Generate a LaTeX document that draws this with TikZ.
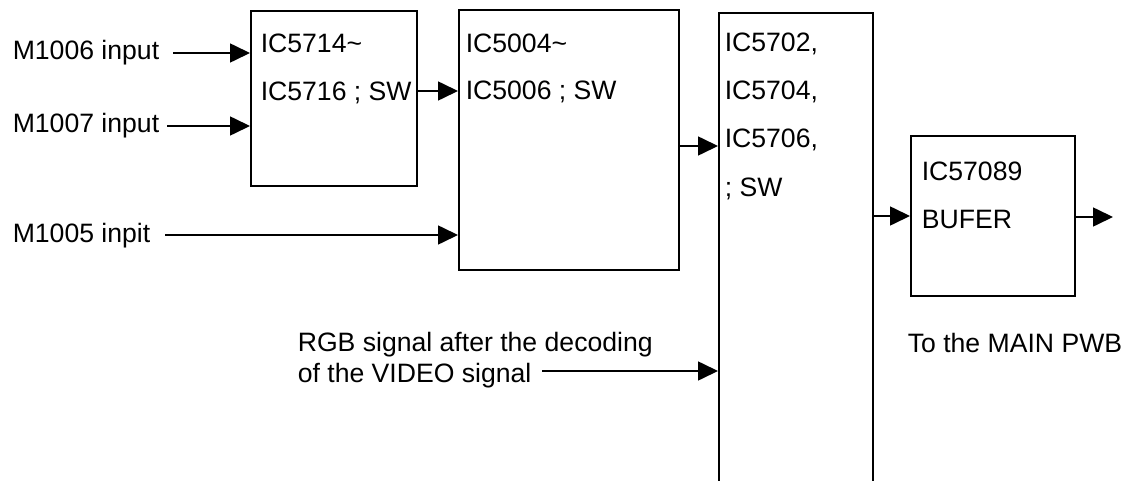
\documentclass[tikz,border=0pt]{standalone}
\usepackage{fontspec}
\setmainfont{Liberation Sans}
\usetikzlibrary{arrows.meta}
\tikzset{
  >={Triangle[length=10pt,width=9.5pt]},
  blk/.style={draw,rectangle,inner sep=0pt,anchor=north west},
  lbl/.style={anchor=base west,inner sep=0pt,font=\fontsize{13.3pt}{16pt}\selectfont},
  every picture/.style={line width=0.8pt},
}
\begin{document}
\begin{tikzpicture}[x=0.5pt,y=-0.5pt]
\clip (0,0) rectangle (1129,481);
% blocks
\node[blk,minimum width=83pt,minimum height=87.5pt] (ic1) at (250,10){};
\node[blk,minimum width=110pt,minimum height=130pt] (ic2) at (458,9){};
\node[blk,minimum width=77pt,minimum height=254pt] (ic3) at (718,12){};
\node[blk,minimum width=82pt,minimum height=80pt] (buf) at (910,135){};
% texts in the blocks
\node[lbl] (ic1a) at (260,53){IC5714\textasciitilde};
\node[lbl] (ic1b) at (260,101){IC5716 ; SW};
\node[lbl] (ic2a) at (465,53){IC5004\textasciitilde};
\node[lbl] (ic2b) at (465,100){IC5006 ; SW};
\node[lbl] (ic3a) at (724,52){IC5702,}; \node[lbl] (ic3b) at (724,100){IC5704,};
\node[lbl] (ic3c) at (724,148){IC5706,}; \node[lbl] (ic3d) at (724,196){; SW};
\node[lbl] (bufa) at (921,180){IC57089}; \node[lbl] (bufb) at (921,228){BUFER};
% inputs
\node[lbl] (m6) at (12,60){M1006 input}; \coordinate (m6s) at (173,53);
\node[lbl] (m7) at (12,133){M1007 input}; \coordinate (m7s) at (167,126);
\node[lbl] (m5) at (12,242){M1005 inpit}; \coordinate (m5s) at (165,235);
\node[lbl] (rgb1) at (297,351){RGB signal after the decoding};
\node[lbl] (rgb2) at (297,382){of the VIDEO signal}; \coordinate (rgbs) at (542,371);
\node[lbl] (pwb) at (907,352){To the MAIN PWB};
% links
\coordinate (j1) at (416,91); \coordinate (j2) at (678,146);
\coordinate (j3) at (872,216); \coordinate (outp) at (1113,217);
\draw[->] (m6s) -- (m6s -| ic1.west); \draw[->] (m7s) -- (m7s -| ic1.west);
\draw[->] (m5s) -- (m5s -| ic2.west); \draw[->] (rgbs) -- (rgbs -| ic3.west);
\draw[->] (j1) -- (j1 -| ic2.west); \draw[->] (j2) -- (j2 -| ic3.west);
\draw[->] (j3) -- (j3 -| buf.west); \draw[->] (outp -| buf.east) -- (outp);
\end{tikzpicture}
\end{document}
